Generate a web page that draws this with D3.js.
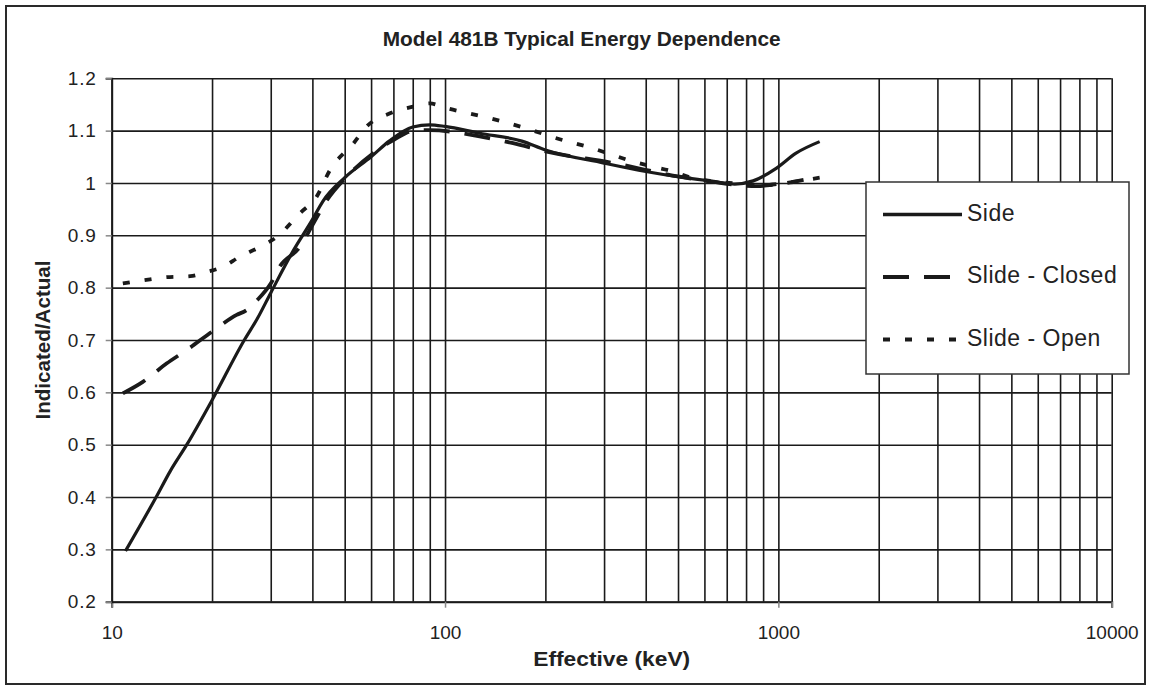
<!DOCTYPE html>
<html>
<head>
<meta charset="utf-8">
<script src="https://cdn.jsdelivr.net/npm/d3@7"></script>
<style>
  body { margin: 0; background: #fff; }
  svg { display: block; font-family: Arial, "Liberation Sans", sans-serif; }
</style>
</head>
<body>
<div id="chart"></div>
<script>
// values (keV, indicated/actual)
const sideData = [
  [11, 0.297], [13.6, 0.40], [15, 0.45], [16.8, 0.50], [20, 0.585], [25, 0.70],
  [27.3, 0.74], [30, 0.79], [35, 0.87], [40, 0.93], [43, 0.965], [50, 1.01],
  [60, 1.05], [68, 1.08], [80, 1.107], [90, 1.111], [100, 1.108], [127, 1.095],
  [170, 1.08], [200, 1.063], [300, 1.038], [400, 1.022], [500, 1.012],
  [640, 1.003], [740, 0.998], [840, 1.004], [985, 1.028], [1130, 1.057], [1330, 1.079]
];
const closedData = [
  [10.8, 0.598], [12.4, 0.62], [14.6, 0.655], [16.8, 0.681], [20, 0.716],
  [23.7, 0.748], [25.4, 0.757], [27.3, 0.776], [30, 0.808], [31.9, 0.84],
  [36.7, 0.878], [40.3, 0.923], [44.2, 0.967], [50.7, 1.012], [60.9, 1.057],
  [70, 1.082], [82, 1.101], [90, 1.101], [127, 1.089], [160, 1.076], [202, 1.06],
  [320, 1.038], [505, 1.012], [637, 1.002], [860, 0.994], [985, 0.997], [1190, 1.006]
];
const openData = [
  [10.8, 0.808], [12.7, 0.815], [14.6, 0.82], [17.2, 0.822], [19.3, 0.83],
  [21.6, 0.84], [24.2, 0.859], [27.9, 0.878], [31.3, 0.897], [36.7, 0.942],
  [41.2, 0.974], [45.2, 1.025], [53.2, 1.076], [58.2, 1.108], [68.4, 1.133],
  [80.3, 1.146], [90, 1.152], [101, 1.143], [136, 1.124], [184, 1.10],
  [212, 1.087], [278, 1.066], [320, 1.053], [366, 1.041], [422, 1.031],
  [483, 1.022], [542, 1.011], [623, 1.004], [760, 0.999], [900, 0.996],
  [1000, 0.998], [1190, 1.005], [1330, 1.01]
];
const seriesNames = ["Side", "Slide - Closed", "Slide - Open"];
const xTicks = [10, 100, 1000, 10000];
const yTicks = [0.2, 0.3, 0.4, 0.5, 0.6, 0.7, 0.8, 0.9, 1, 1.1, 1.2];
const titleText = "Model 481B Typical Energy Dependence";
const xTitle = "Effective (keV)";
const yTitle = "Indicated/Actual";

const W = 1151, H = 690;
const plot = { left: 111.7, right: 1111.7, top: 78.3, bottom: 601.7 };

const x = d3.scaleLog().domain([10, 10000]).range([plot.left, plot.right]);
const y = d3.scaleLinear().domain([0.2, 1.2]).range([plot.bottom, plot.top]);

const svg = d3.select("#chart").append("svg")
  .attr("width", W).attr("height", H);

// outer frame
svg.append("rect")
  .attr("x", 6).attr("y", 6).attr("width", 1139).attr("height", 678)
  .attr("fill", "#fff").attr("stroke", "#2a2a2a").attr("stroke-width", 2);

// minor + major vertical grid
const xGridVals = [];
for (let d = 10; d < 10000; d *= 10) {
  for (let k = 1; k < 10; k++) xGridVals.push(d * k);
}
xGridVals.push(10000);

svg.append("g")
  .attr("class", "grid-x")
  .attr("transform", `translate(0,${plot.bottom})`)
  .call(d3.axisBottom(x).tickValues(xGridVals).tickSize(-(plot.bottom - plot.top)).tickFormat(""))
  .call(g => g.select(".domain").remove())
  .call(g => g.selectAll("line").attr("stroke", "#1a1a1a").attr("stroke-width", 1.6));

svg.append("g")
  .attr("class", "grid-y")
  .attr("transform", `translate(${plot.left},0)`)
  .call(d3.axisLeft(y).tickValues(yTicks).tickSize(-(plot.right - plot.left)).tickFormat(""))
  .call(g => g.select(".domain").remove())
  .call(g => g.selectAll("line").attr("stroke", "#1a1a1a").attr("stroke-width", 1.6));

// axes with small outward ticks
svg.append("g")
  .attr("transform", `translate(0,${plot.bottom})`)
  .call(d3.axisBottom(x).tickValues(xTicks).tickSize(6).tickPadding(18).tickFormat(d3.format("d")))
  .call(g => g.select(".domain").attr("stroke", "#1a1a1a").attr("stroke-width", 2))
  .call(g => g.selectAll(".tick line").attr("stroke", "#888").attr("stroke-width", 1.5))
  .call(g => g.selectAll(".tick text").attr("font-size", 19).attr("fill", "#222")
    .attr("font-family", "Arial, 'Liberation Sans', sans-serif"));

svg.append("g")
  .attr("transform", `translate(${plot.left},0)`)
  .call(d3.axisLeft(y).tickValues(yTicks).tickSize(6).tickPadding(9).tickFormat(d => d3.format("")(d)))
  .call(g => g.select(".domain").attr("stroke", "#1a1a1a").attr("stroke-width", 2))
  .call(g => g.selectAll(".tick line").attr("stroke", "#888").attr("stroke-width", 1.5))
  .call(g => g.selectAll(".tick text").attr("font-size", 19).attr("fill", "#222")
    .attr("letter-spacing", 0.8)
    .attr("font-family", "Arial, 'Liberation Sans', sans-serif"));

// series
const line = d3.line()
  .x(d => x(d[0]))
  .y(d => y(d[1]))
  .curve(d3.curveMonotoneX);

const dashes = ["none", "26,15", "7,15"];
const allData = [sideData, closedData, openData];

svg.append("g").selectAll("path")
  .data(allData)
  .enter()
  .append("path")
    .attr("d", d => line(d))
    .attr("fill", "none")
    .attr("stroke", "#1a1a1a")
    .attr("stroke-width", (d, i) => i === 0 ? 3.2 : 3.8)
    .attr("stroke-dasharray", (d, i) => dashes[i]);

// titles
svg.append("text")
  .attr("x", (plot.left + plot.right) / 2 - 30)
  .attr("y", 46)
  .attr("text-anchor", "middle")
  .attr("font-size", 20)
  .attr("font-weight", "bold")
  .attr("fill", "#222")
  .attr("textLength", 398)
  .attr("lengthAdjust", "spacingAndGlyphs")
  .text(titleText);

svg.append("text")
  .attr("x", (plot.left + plot.right) / 2)
  .attr("y", 666)
  .attr("text-anchor", "middle")
  .attr("font-size", 20)
  .attr("font-weight", "bold")
  .attr("fill", "#222")
  .attr("textLength", 157)
  .attr("lengthAdjust", "spacingAndGlyphs")
  .text(xTitle);

svg.append("text")
  .attr("transform", `translate(50,${(plot.top + plot.bottom) / 2}) rotate(-90)`)
  .attr("text-anchor", "middle")
  .attr("font-size", 20)
  .attr("font-weight", "bold")
  .attr("fill", "#222")
  .attr("textLength", 159)
  .attr("lengthAdjust", "spacingAndGlyphs")
  .text(yTitle);

// legend
const legend = svg.append("g");
legend.append("rect")
  .attr("x", 866).attr("y", 182).attr("width", 263).attr("height", 192)
  .attr("fill", "#fff").attr("stroke", "#333").attr("stroke-width", 1.5);

const legendRows = legend.selectAll("g.row")
  .data(seriesNames)
  .enter()
  .append("g")
    .attr("class", "row")
    .attr("transform", (d, i) => `translate(0,${214.5 + i * 62.5})`);

legendRows.append("line")
  .attr("x1", 883).attr("x2", 962).attr("y1", 0).attr("y2", 0)
  .attr("stroke", "#1a1a1a")
  .attr("stroke-width", (d, i) => i === 0 ? 3.5 : 4)
  .attr("stroke-dasharray", (d, i) => dashes[i]);

legendRows.append("text")
  .attr("x", 967).attr("y", 6)
  .attr("font-size", 23)
  .attr("letter-spacing", 0.5)
  .attr("fill", "#222")
  .text(d => d);
</script>
</body>
</html>
